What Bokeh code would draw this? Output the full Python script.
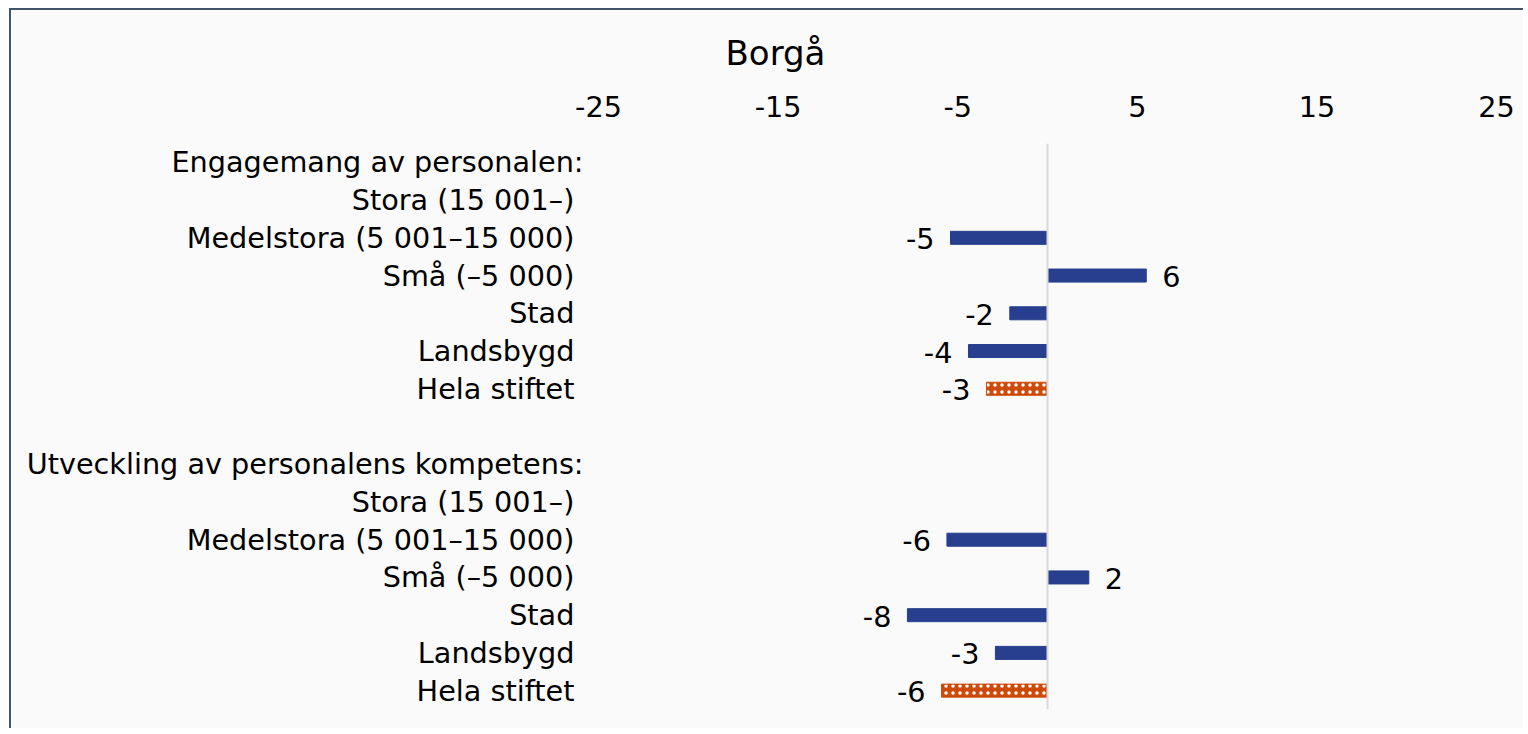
from bokeh.plotting import figure
from bokeh.models import ColumnDataSource, FixedTicker, Range1d, Span
from bokeh.core.properties import value
from bokeh.embed import file_html
from bokeh.resources import INLINE

title_text = "Borgå"
row_labels = [
    "Engagemang av personalen:",
    "Stora (15 001–)\u00a0",
    "Medelstora (5 001–15 000)\u00a0",
    "Små (–5 000)\u00a0",
    "Stad\u00a0",
    "Landsbygd\u00a0",
    "Hela stiftet\u00a0",
    "",
    "Utveckling av personalens kompetens:",
    "Stora (15 001–)\u00a0",
    "Medelstora (5 001–15 000)\u00a0",
    "Små (–5 000)\u00a0",
    "Stad\u00a0",
    "Landsbygd\u00a0",
    "Hela stiftet\u00a0",
]
x_ticks = [-25, -15, -5, 5, 15, 25]

blue_rows = [2, 3, 4, 5, 10, 11, 12, 13]
blue_values = [-5.4, 5.5, -2.1, -4.4, -5.6, 2.3, -7.8, -2.9]
blue_texts = ["-5", "6", "-2", "-4", "-6", "2", "-8", "-3"]

total_rows = [6, 14]
total_values = [-3.4, -5.9]
total_texts = ["-3", "-6"]

BLUE = "#273F8E"
ORANGE = "#CC4B0A"
BG = "#FAFAFA"
FONT = "DejaVu Sans"
FS = "28.7px"

p = figure(width=1514, height=720, output_backend="svg", toolbar_location=None,
           x_axis_location="above", x_range=Range1d(-25, 25),
           y_range=Range1d(len(row_labels) - 0.5, -0.5),
           min_border_left=587, min_border_right=29, min_border_top=133, min_border_bottom=21)
p.background_fill_color = BG
p.border_fill_color = BG
p.outline_line_color = None
p.grid.visible = False
p.styles = {"border-left": "2px solid #44546A", "border-top": "2px solid #44546A",
            "margin-left": "9px", "margin-top": "8px"}

p.title.text = title_text
p.title.align = "left"
p.title.offset = 127
p.title.standoff = 40
p.title.text_font = FONT
p.title.text_font_size = "34px"
p.title.text_font_style = "normal"
p.title.text_color = "#000000"


def label_frame(rows, vals, texts):
    aligns = ["left" if v >= 0 else "right" for v in vals]
    offs = [16 if v >= 0 else -16 for v in vals]
    return dict(y=rows, x=vals, text=texts, align=aligns, off=offs)


src_b = ColumnDataSource(label_frame(blue_rows, blue_values, blue_texts))
src_t = ColumnDataSource(label_frame(total_rows, total_values, total_texts))

p.hbar(y="y", right="x", left=0, height=0.345, source=src_b,
       fill_color=BLUE, line_color=BLUE, line_width=1)
p.hbar(y="y", right="x", left=0, height=0.345, source=src_t,
       fill_color=ORANGE, line_color=ORANGE, line_width=1,
       hatch_pattern="dot", hatch_color="white", hatch_scale=7, hatch_weight=3)

p.add_layout(Span(location=0, dimension="height", line_color="#D9D9D9", line_width=2))

for src in (src_b, src_t):
    p.text(x="x", y="y", text="text", source=src, text_align="align", x_offset="off",
           y_offset=1, text_baseline="middle", text_font=value(FONT),
           text_font_size=FS, text_color="#000000")

xa = p.xaxis[0]
xa.ticker = FixedTicker(ticks=x_ticks)
xa.major_label_overrides = {t: str(t) for t in x_ticks}
xa.axis_line_color = None
xa.major_tick_line_color = None
xa.minor_tick_line_color = None
xa.major_label_text_font = FONT
xa.major_label_text_font_size = FS
xa.major_label_text_color = "#000000"
xa.major_label_standoff = 21

ya = p.yaxis[0]
ya.ticker = FixedTicker(ticks=list(range(len(row_labels))))
ya.major_label_overrides = {i: (lab if lab else " ") for i, lab in enumerate(row_labels)}
ya.axis_line_color = None
ya.major_tick_line_color = None
ya.minor_tick_line_color = None
ya.major_label_text_font = FONT
ya.major_label_text_font_size = FS
ya.major_label_text_color = "#000000"
ya.major_label_standoff = 9

open("out.html", "w").write(file_html(p, INLINE))
